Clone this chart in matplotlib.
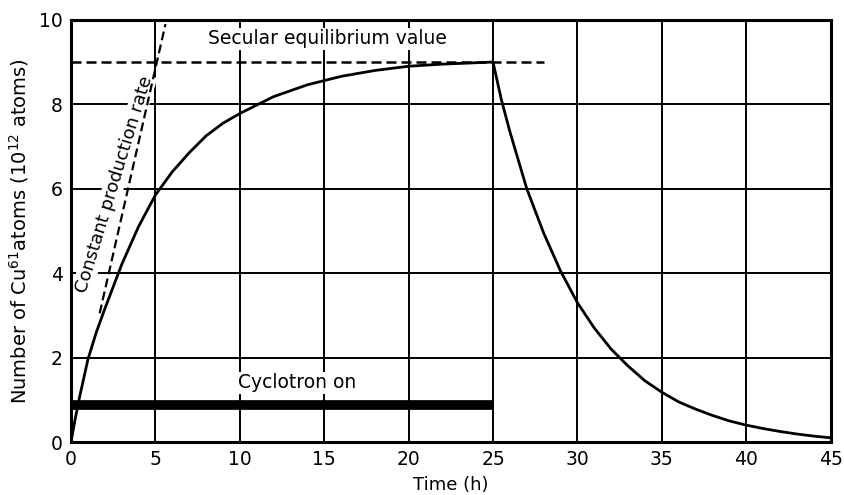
import matplotlib
matplotlib.use("Agg")
import matplotlib.pyplot as plt

# values (hours, 10^12 atoms)
t_on = [0, 0.25, 0.5, 1, 1.5, 2, 3, 4, 5, 6, 7, 8, 9, 10, 12, 14, 16, 18, 20, 22, 25]
n_on = [0, 0.55, 1.05, 1.95, 2.6, 3.15, 4.2, 5.1, 5.85, 6.4, 6.85, 7.25, 7.55, 7.78, 8.18, 8.46, 8.66, 8.8, 8.9, 8.95, 9.0]
t_off = [25, 25.5, 26, 27, 28, 29, 30, 31, 32, 33, 34, 35, 36, 37, 38, 39, 40, 41, 42, 43, 44, 45]
n_off = [9.0, 8.1, 7.35, 6.0, 4.95, 4.05, 3.3, 2.7, 2.2, 1.8, 1.45, 1.18, 0.95, 0.78, 0.63, 0.5, 0.4, 0.32, 0.25, 0.19, 0.14, 0.1]

equilibrium = 9.0
equil_end = 28
rate_t = [1.7, 5.6]
rate_n = [3.05, 9.9]
cyclotron_t = [0, 25]
cyclotron_level = 0.88

plt.rcParams['font.family'] = ['DejaVu Sans']
fig = plt.figure(figsize=(8.45, 4.95), dpi=100)
ax = fig.add_axes([0.084, 0.107, 0.899, 0.853])

ax.plot(t_on + t_off[1:], n_on + n_off[1:], color='black', lw=2, zorder=3)
ax.plot([0, equil_end], [equilibrium, equilibrium], color='black', lw=1.8, ls=(0, (4, 2)), zorder=3)
ax.plot(rate_t, rate_n, color='black', lw=1.6, ls=(0, (4, 2)), zorder=3)
ax.plot(cyclotron_t, [cyclotron_level] * 2, color='black', lw=7, solid_capstyle='butt', zorder=3)

box = dict(facecolor='white', edgecolor='none', pad=1)
ax.text(15.2, 9.55, 'Secular equilibrium value', fontsize=13.5, ha='center', va='center', bbox=box, zorder=4)
ax.text(2.55, 6.1, 'Constant production rate', fontsize=13, ha='center', va='center', rotation=73,
        bbox=box, zorder=2.5)
ax.text(13.4, 1.4, 'Cyclotron on', fontsize=13.5, ha='center', va='center', bbox=box, zorder=4)

ax.set_xlim(0, 45)
ax.set_ylim(0, 10)
ax.set_xticks(range(0, 46, 5))
ax.set_yticks(range(0, 11, 2))
ax.set_axisbelow(True)
ax.grid(True, color='black', lw=1.4, zorder=1)
ax.tick_params(length=0, labelsize=13.5, pad=6)
for s in ax.spines.values():
    s.set_linewidth(2.2)
    s.set_zorder(5)

ax.set_xlabel('Time (h)', fontsize=13, labelpad=5)
ax.set_ylabel('Number of Cu$^{61}$atoms (10$^{12}$ atoms)', fontsize=14, labelpad=6)

fig.savefig('out.png', dpi=100)
